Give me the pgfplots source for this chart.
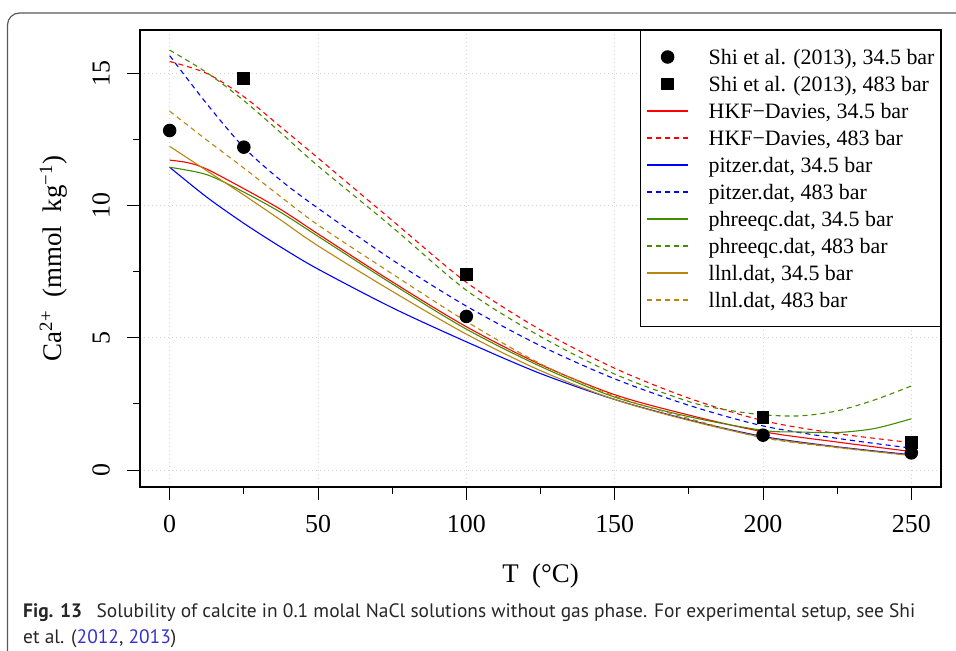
\documentclass[border=0pt]{standalone}
\usepackage{fontspec}
\setmainfont{Liberation Serif}
\newfontfamily\capfont{PT Sans}
\usepackage{pgfplots}
\pgfplotsset{compat=1.18}
\definecolor{rgreen}{RGB}{69,139,0}
\definecolor{rgold}{RGB}{184,134,11}
\definecolor{gridgray}{RGB}{211,211,211}
\definecolor{linkblue}{RGB}{51,51,204}
\pgfplotsset{markleg/.style={legend image code/.code={\draw[##1, only marks] plot coordinates {(20.5bp,0bp)};}}}
\begin{document}
\begin{tikzpicture}[x=1bp,y=1bp]
\path[use as bounding box] (0,0) rectangle (956,-651);
\draw[black!65, line width=1.2bp, rounded corners=12bp] (960,-13) -- (7.5,-13) -- (7.5,-655);
\begin{axis}[
  at={(140bp,-487bp)}, anchor=south west,
  width=801bp, height=457bp, scale only axis,
  xmin=-10, xmax=260, ymin=-0.64, ymax=16.64,
  xtick={0,50,...,250}, ytick={0,5,10,15},
  minor xtick={25,75,...,225}, minor ytick={2.5,7.5,12.5},
  xtick pos=bottom, ytick pos=left,
  tick align=outside,
  major tick length=13bp, minor tick length=7bp,
  tick style={black, line width=1bp},
  axis line style={black, line width=1.2bp},
  grid=major,
  major grid style={gridgray, line width=0.9bp, dash pattern=on 1bp off 3bp},
  tick label style={font=\fontsize{26}{30}\selectfont},
  /pgf/number format/assume math mode=true,
  xticklabel style={anchor=north, inner sep=0pt},
  yticklabel style={rotate=90, anchor=south, inner sep=0pt},
  xticklabel shift=15bp, yticklabel shift=17bp,
  legend style={at={(1,1)}, anchor=north east, line width=1bp, fill=white,
    font=\fontsize{22}{26}\selectfont, inner xsep=6bp, inner ysep=13bp, row sep=0pt,
    nodes={inner sep=0pt, text height=20.5bp, text depth=6.5bp}},
  legend cell align=left,
  /tikz/every odd column/.append style={column sep=20bp},
  legend image code/.code={\draw[mark repeat=2, mark phase=2, sharp plot, #1] plot coordinates {(0bp,0bp) (20.5bp,0bp) (41bp,0bp)};},
  every axis plot/.append style={line width=1.1bp},
]
\addplot[only marks, mark=*, mark size=6.2bp, mark options={fill=black, draw=black}, markleg] coordinates {
(0,12.84) (25,12.21) (100,5.81) (200,1.32) (250,0.65)};
\addlegendentry{Shi et al. (2013), 34.5 bar}
\addplot[only marks, mark=square*, mark size=5.9bp, mark options={fill=black, draw=black}, markleg] coordinates {
(25,14.82) (100,7.38) (200,2.0) (250,1.04)};
\addlegendentry{Shi et al. (2013), 483 bar}
% HKF-Davies 34.5
\addplot[draw=red, smooth, no marks] coordinates {
(0,11.72) (6.25,11.62) (12.5,11.38) (25,10.64) (37.5,9.85) (50,8.93) (75,7.12) (100,5.42) (125,3.99) (150,2.85) (175,2.08) (200,1.45) (225,1.06) (250,0.70)};
\addlegendentry{HKF−Davies, 34.5 bar}
% HKF-Davies 483
\addplot[draw=red, smooth, no marks, dash pattern=on 5bp off 4bp] coordinates {
(0,15.45) (12.5,15.0) (25,14.12) (37.5,12.97) (50,11.8) (75,9.44) (100,7.1) (125,5.3) (150,3.85) (175,2.72) (200,1.87) (225,1.38) (250,1.04)};
\addlegendentry{HKF−Davies, 483 bar}
% pitzer 34.5
\addplot[draw=blue, smooth, no marks] coordinates {
(0,11.45) (12.5,10.32) (25,9.33) (37.5,8.43) (50,7.6) (75,6.14) (100,4.85) (125,3.65) (150,2.67) (175,1.9) (200,1.27) (225,0.88) (250,0.58)};
\addlegendentry{pitzer.dat, 34.5 bar}
% pitzer 483
\addplot[draw=blue, smooth, no marks, dash pattern=on 5bp off 4bp] coordinates {
(0,15.67) (12.5,13.85) (25,12.2) (37.5,10.95) (50,9.9) (75,7.95) (100,6.2) (125,4.7) (150,3.45) (175,2.45) (200,1.67) (225,1.2) (250,0.83)};
\addlegendentry{pitzer.dat, 483 bar}
% phreeqc 34.5
\addplot[draw=rgreen, smooth, no marks] coordinates {
(0,11.45) (12.5,11.17) (25,10.51) (37.5,9.74) (50,8.84) (75,7.04) (100,5.33) (125,3.92) (150,2.76) (175,2.02) (200,1.5) (212.5,1.44) (225,1.42) (237.5,1.57) (250,1.94)};
\addlegendentry{phreeqc.dat, 34.5 bar}
% phreeqc 483
\addplot[draw=rgreen, smooth, no marks, dash pattern=on 5bp off 4bp] coordinates {
(0,15.88) (12.5,15.03) (25,13.97) (37.5,12.75) (50,11.5) (75,9.19) (100,6.8) (125,5.05) (150,3.63) (175,2.59) (187.5,2.28) (200,2.09) (212.5,2.05) (225,2.24) (237.5,2.65) (250,3.18)};
\addlegendentry{phreeqc.dat, 483 bar}
% llnl 34.5
\addplot[draw=rgold, smooth, no marks] coordinates {
(0,12.24) (12.5,11.32) (25,10.4) (37.5,9.45) (50,8.48) (75,6.76) (100,5.14) (125,3.76) (150,2.67) (175,1.88) (200,1.24) (225,0.86) (250,0.55)};
\addlegendentry{llnl.dat, 34.5 bar}
% llnl 483
\addplot[draw=rgold, smooth, no marks, dash pattern=on 5bp off 4bp] coordinates {
(0,13.57) (12.5,12.48) (25,11.42) (37.5,10.33) (50,9.27) (75,7.42) (100,5.62) (125,4.02) (150,2.8) (175,1.95) (200,1.22) (225,0.85) (250,0.55)};
\addlegendentry{llnl.dat, 483 bar}
\end{axis}
\node[anchor=base, inner sep=0pt, font=\fontsize{27}{30}\selectfont] at (540.5,-582) {T\hspace{0.5em}(°C)};
\node[rotate=90, anchor=base, inner sep=0pt, font=\fontsize{27}{30}\selectfont] at (61,-258.5) {Ca\textsuperscript{2+}\hspace{0.5em}(mmol\hspace{0.5em}kg\textsuperscript{−1})};
\node[anchor=base west, inner sep=0pt, text=black!85, font=\capfont\fontsize{19.5}{22}\selectfont] at (23,-617) {\textbf{Fig. 13}\hspace{0.75em}Solubility of calcite in 0.1 molal NaCl solutions without gas phase. For experimental setup, see Shi};
\node[anchor=base west, inner sep=0pt, text=black!85, font=\capfont\fontsize{19.5}{22}\selectfont] at (23,-643) {et al. (\textcolor{linkblue}{2012}, \textcolor{linkblue}{2013})};
\end{tikzpicture}
\end{document}
